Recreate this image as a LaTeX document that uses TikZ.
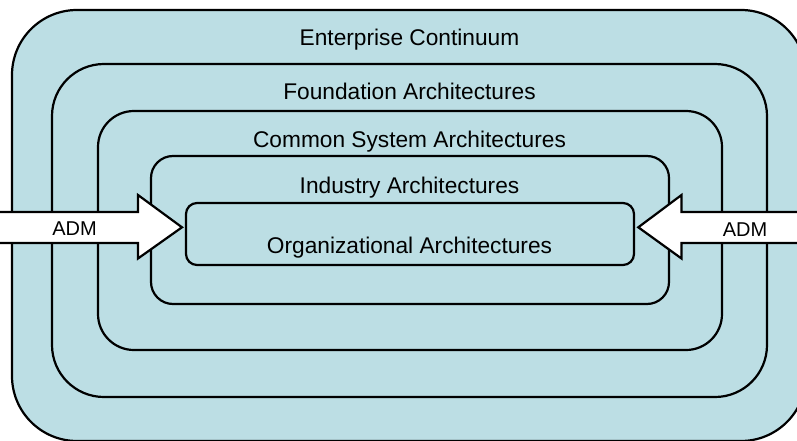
\documentclass[tikz,border=0pt]{standalone}
\usepackage{fontspec}
\setmainfont{Liberation Sans}
\definecolor{boxblue}{RGB}{188,222,228}
\begin{document}
\begin{tikzpicture}[x=1pt,y=1pt,
  layer/.style={draw=black, line width=2.2pt, fill=boxblue, rectangle, inner sep=0pt, outer sep=0pt},
  title/.style={anchor=base, inner sep=0pt, font=\fontsize{22.7}{26}\selectfont},
  admarrow/.style={draw=black, line width=2.2pt, fill=white, line join=miter},
  admlabel/.style={anchor=base, inner sep=0pt, font=\fontsize{20}{24}\selectfont}]
\useasboundingbox (0,0) rectangle (797,440);
\clip (0,0) rectangle (797,440);
% nested layers
\node[layer, rounded corners=65pt, minimum width=794pt, minimum height=431pt] (ec) at (409,214.5) {};
\node[layer, rounded corners=52pt, minimum width=715pt, minimum height=333pt] (fa) at (409.5,209.5) {};
\node[layer, rounded corners=36pt, minimum width=624pt, minimum height=239pt] (csa) at (410,209.5) {};
\node[layer, rounded corners=22pt, minimum width=518pt, minimum height=148pt] (ia) at (410,210) {};
\node[layer, rounded corners=11pt, minimum width=448pt, minimum height=62pt] (oa) at (410,206) {};
% titles
\node[title] (tec) at (409.5,394) {Enterprise Continuum};
\node[title] (tfa) at (409.5,341) {Foundation Architectures};
\node[title] (tcsa) at (409.5,293) {Common System Architectures};
\node[title] (tia) at (409.5,247) {Industry Architectures};
\node[title] (toa) at (409.5,186.5) {Organizational Architectures};
% ADM arrows
\draw[admarrow] (-5,228) -- (138,228) -- (138,245) -- (182,212.7) -- (138,181.5) -- (138,197) -- (-5,197) -- cycle;
\draw[admarrow] (805,228) -- (681.5,228) -- (681.5,245) -- (638.3,212.7) -- (681.5,181.5) -- (681.5,197) -- (805,197) -- cycle;
\node[admlabel] (admL) at (74.5,205) {ADM};
\node[admlabel] (admR) at (745,203.5) {ADM};
\end{tikzpicture}
\end{document}
